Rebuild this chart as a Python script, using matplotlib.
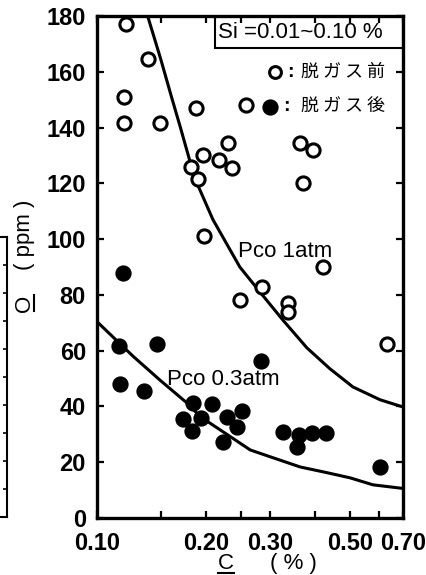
import matplotlib
matplotlib.use('Agg')
import matplotlib.pyplot as plt
from matplotlib.patches import Rectangle
from matplotlib.lines import Line2D

plt.rcParams['font.family'] = ['Liberation Sans', 'DejaVu Sans']

# 脱ガス前 (open circles)
before_c = [0.120, 0.138, 0.119, 0.119, 0.149, 0.188, 0.196, 0.182, 0.258, 0.230,
            0.217, 0.236, 0.190, 0.364, 0.395, 0.371, 0.198, 0.421, 0.286, 0.248,
            0.337, 0.337, 0.632]
before_o = [177, 164.5, 151, 141.5, 141.5, 147, 130, 126, 148, 134.5,
            128.5, 125.5, 121.5, 134.5, 132, 120, 101, 90, 83, 78,
            77, 74, 62.5]

# 脱ガス後 (filled circles)
after_c = [0.118, 0.115, 0.146, 0.116, 0.135, 0.184, 0.208, 0.173, 0.194, 0.183,
           0.223, 0.284, 0.252, 0.229, 0.244, 0.326, 0.361, 0.393, 0.429, 0.357,
           0.605]
after_o = [88, 61.5, 62.5, 48, 45.5, 41.3, 40.8, 35.6, 35.9, 31.3,
           27.2, 56.4, 38.4, 36.3, 32.7, 30.9, 29.8, 30.5, 30.5, 25.5,
           18.3]

# equilibrium curves
pco1_c = [0.138, 0.150, 0.161, 0.170, 0.186, 0.209, 0.248, 0.282, 0.326, 0.380,
          0.440, 0.509, 0.605, 0.700]
pco1_o = [180, 164.5, 150.5, 140, 122, 107, 90, 81, 71, 61,
          53.5, 47, 42.4, 39.8]
pco03_c = [0.100, 0.126, 0.150, 0.177, 0.193, 0.220, 0.265, 0.300, 0.364, 0.430,
           0.500, 0.578, 0.700]
pco03_o = [70.4, 57.9, 49.2, 41.3, 36.3, 31.4, 24.4, 22.0, 18.3, 16.3,
           14.4, 11.9, 10.6]

xticks = [0.10, 0.15, 0.20, 0.25, 0.30, 0.40, 0.50, 0.60, 0.70]
xticklabels = ['0.10', '', '0.20', '', '0.30', '', '0.50', '', '0.70']
yticks = [0, 20, 40, 60, 80, 100, 120, 140, 160, 180]

fig = plt.figure(figsize=(4.26, 5.75), dpi=100)
ax = fig.add_axes([97 / 426, 57 / 575, 306 / 426, 502 / 575])

ax.plot(pco1_c, pco1_o, color='black', lw=2.2)
ax.plot(pco03_c, pco03_o, color='black', lw=2.2)
ax.plot(before_c, before_o, 'o', mfc='white', mec='black', ms=9.5, mew=2.2, zorder=3)
ax.plot(after_c, after_o, 'o', mfc='black', mec='black', ms=9.5, mew=2.2, zorder=3)

ax.set_xscale('log')
ax.set_xlim(0.1, 0.7)
ax.set_ylim(0, 180)
ax.set_xticks(xticks)
ax.set_xticklabels(xticklabels)
ax.minorticks_off()
ax.set_yticks(yticks)
ax.tick_params(direction='in', length=5, width=1.6, top=True, right=True,
               labelsize=17)
ax.tick_params(axis='y', pad=8)
ax.tick_params(axis='x', pad=10)
for lab in ax.get_xticklabels() + ax.get_yticklabels():
    lab.set_fontweight('bold')
for sp in ax.spines.values():
    sp.set_linewidth(2.4)

ax.text(0.245, 95.6, 'Pco 1atm', fontsize=16, va='center', ha='left')
ax.text(0.156, 49.6, 'Pco 0.3atm', fontsize=16, va='center', ha='left')

# Si box
ax.add_patch(Rectangle((0.386, 0.936), 0.614, 0.064, transform=ax.transAxes,
                       fill=False, lw=1.5, color='black', zorder=4))
ax.text(0.395, 0.968, 'Si =0.01~0.10 %', transform=ax.transAxes,
        fontsize=16, va='center', ha='left')

# legend
ax.plot([0.582], [0.888], 'o', mfc='white', mec='black', ms=8.5, mew=2.2,
        transform=ax.transAxes, clip_on=False)
ax.plot([0.565], [0.819], 'o', mfc='black', mec='black', ms=9.5, mew=2.2,
        transform=ax.transAxes, clip_on=False)
ax.text(0.622, 0.888, ':', transform=ax.transAxes, fontsize=14, va='center',
        fontweight='bold')
ax.text(0.607, 0.819, ':', transform=ax.transAxes, fontsize=14, va='center',
        fontweight='bold')
ax.text(0.668, 0.888, '脱 ガ ス 前', transform=ax.transAxes, fontsize=13,
        va='center', family=['Noto Sans CJK JP'])
ax.text(0.668, 0.819, '脱 ガ ス 後', transform=ax.transAxes, fontsize=13,
        va='center', family=['Noto Sans CJK JP'])

# axis labels; the element symbol is underlined
lab_kw = dict(fontsize=16, ha='center', va='baseline', rotation_mode='anchor')
fig.text(226 / 426, 1 - 569 / 575, 'C', **lab_kw)
fig.text(293 / 426, 1 - 569 / 575, '( % )', **lab_kw)
fig.text(30 / 426, 1 - 303 / 575, 'O', rotation=90, **lab_kw)
fig.text(30 / 426, 1 - 235 / 575, '( ppm )', rotation=90, **lab_kw)
fig.add_artist(Line2D([218 / 426, 234 / 426], [1 - 573 / 575, 1 - 573 / 575],
                      color='black', lw=1.5))
fig.add_artist(Line2D([34 / 426, 34 / 426], [1 - 295 / 575, 1 - 311 / 575],
                      color='black', lw=1.5))

# fragment of the neighbouring chart on the left edge
ax2 = fig.add_axes([0, 58 / 575, 7 / 426, 280 / 575])
ax2.set_xlim(0, 1)
ax2.set_ylim(0, 10)
ax2.set_xticks([])
ax2.set_yticks(range(1, 10))
ax2.yaxis.tick_right()
ax2.tick_params(direction='in', length=3, width=1.2, labelright=False)
ax2.spines['left'].set_visible(False)
for s in ['right', 'top', 'bottom']:
    ax2.spines[s].set_linewidth(1.5)
ax2.patch.set_visible(False)

fig.savefig('out.png', dpi=100)
